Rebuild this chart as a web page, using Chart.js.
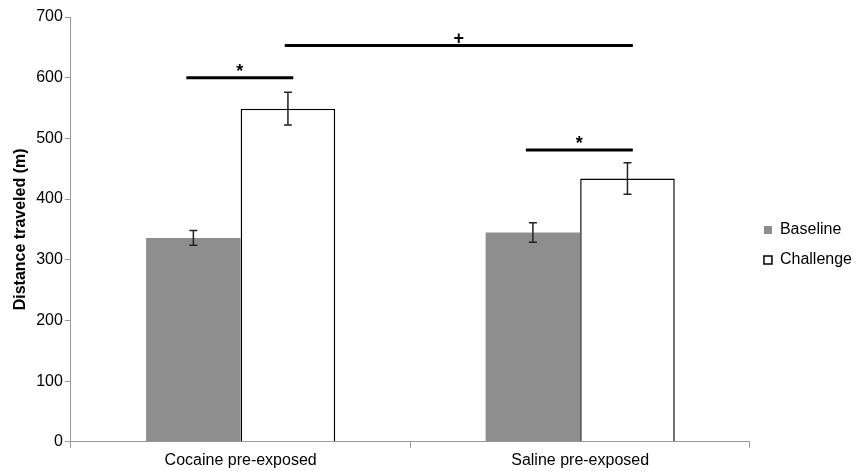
<!DOCTYPE html>
<html>
<head>
<meta charset="utf-8">
<script src="https://cdn.jsdelivr.net/npm/chart.js@4"></script>
<style>
  html, body { margin: 0; padding: 0; background: #fff; overflow: hidden; }
  #wrap { width: 880px; height: 471px; }
</style>
</head>
<body>
<div id="wrap"><canvas id="chart"></canvas></div>
<script>
var categories = ['Cocaine pre-exposed', 'Saline pre-exposed'];
var seriesNames = ['Baseline', 'Challenge'];
var baseline = [336, 345];
var challenge = [549, 434];
var baselineErr = [12, 16];
var challengeErr = [27, 26];
var yTicks = [0, 100, 200, 300, 400, 500, 600, 700];

// significance bars: x in category units, y in data units
var sigFrom = [-0.16, 0.13, 0.84];
var sigTo = [0.155, 1.155, 1.155];
var sigY = [600, 653, 481];
var sigLabels = ['*', '+', '*'];

var errorBars = {
  id: 'errorBars',
  afterDatasetsDraw: function(chart) {
    var ctx = chart.ctx, y = chart.scales.y, x = chart.scales.x;
    var errs = [baselineErr, challengeErr];
    ctx.save();
    ctx.strokeStyle = '#222';
    ctx.lineWidth = 1.5;
    chart.data.datasets.forEach(function(ds, d){
      var meta = chart.getDatasetMeta(d);
      meta.data.forEach(function(bar, i){
        var v = ds.data[i], e = errs[d][i];
        var top = y.getPixelForValue(v + e), bot = y.getPixelForValue(v - e);
        ctx.beginPath();
        ctx.moveTo(bar.x, top); ctx.lineTo(bar.x, bot);
        ctx.moveTo(bar.x - 4, top); ctx.lineTo(bar.x + 4, top);
        ctx.moveTo(bar.x - 4, bot); ctx.lineTo(bar.x + 4, bot);
        ctx.stroke();
      });
    });

    var catW = x.getPixelForValue(1) - x.getPixelForValue(0);
    ctx.lineWidth = 3;
    ctx.strokeStyle = '#000';
    ctx.fillStyle = '#000';
    ctx.textAlign = 'center';
    ctx.textBaseline = 'bottom';
    ctx.font = 'bold 18px "Liberation Sans", Arial, sans-serif';
    sigY.forEach(function(v, i){
      var x0 = x.getPixelForValue(0) + sigFrom[i] * catW;
      var x1 = x.getPixelForValue(0) + sigTo[i] * catW;
      var py = y.getPixelForValue(v);
      ctx.beginPath();
      ctx.moveTo(x0, py); ctx.lineTo(x1, py);
      ctx.stroke();
      ctx.fillText(sigLabels[i], (x0 + x1) / 2, py + 3);
    });
    ctx.restore();
  }
};

Chart.defaults.font.family = '"Liberation Sans", Arial, sans-serif';
Chart.defaults.font.size = 16;
Chart.defaults.color = '#000';

new Chart(document.getElementById('chart'), {
  type: 'bar',
  data: {
    labels: categories,
    datasets: [
      {
        label: seriesNames[0],
        data: baseline,
        backgroundColor: '#8e8e8e',
        borderWidth: 0
      },
      {
        label: seriesNames[1],
        data: challenge,
        backgroundColor: '#ffffff',
        borderColor: '#000',
        borderWidth: 1.5,
        borderSkipped: 'bottom'
      }
    ]
  },
  options: {
    responsive: true,
    maintainAspectRatio: false,
    animation: false,
    categoryPercentage: 0.557,
    barPercentage: 1,
    layout: { padding: { top: 17, left: 7, right: 18, bottom: -2 } },
    plugins: {
      legend: {
        position: 'right',
        labels: {
          boxWidth: 8,
          boxHeight: 8,
          padding: 14,
          color: '#000',
          font: { size: 16 }
        }
      },
      tooltip: { enabled: false }
    },
    scales: {
      x: {
        grid: { drawOnChartArea: false, color: '#999', tickLength: 6 },
        border: { color: '#999' },
        ticks: { color: '#000', padding: 3 }
      },
      y: {
        min: 0,
        max: 700,
        afterBuildTicks: function(axis){
          axis.ticks = yTicks.map(function(v){ return { value: v }; });
        },
        grid: { drawOnChartArea: false, color: '#999', tickLength: 6 },
        border: { color: '#999' },
        ticks: { color: '#000', padding: 2 },
        title: {
          display: true,
          text: 'Distance traveled (m)',
          font: { weight: 'bold', size: 16 },
          color: '#000'
        }
      }
    }
  },
  plugins: [errorBars]
});
</script>
</body>
</html>
